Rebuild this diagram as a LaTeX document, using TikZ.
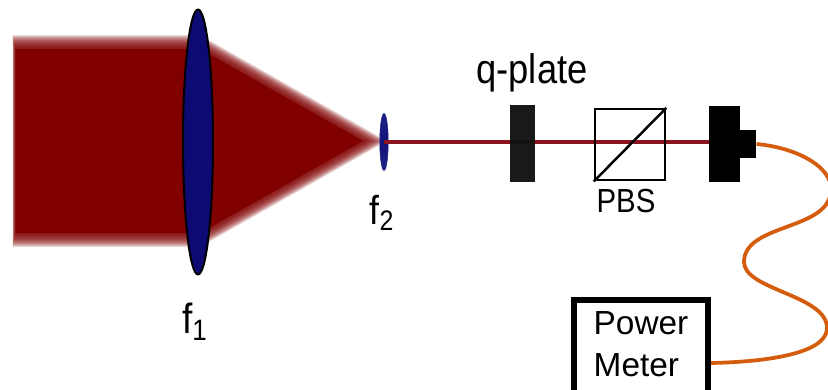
\documentclass[tikz,border=0pt]{standalone}
\usepackage{fontspec}
\setmainfont[FakeStretch=0.88]{Liberation Sans}
\newfontfamily\meterfont{Liberation Sans}
\usetikzlibrary{positioning, shapes.geometric}
\definecolor{beamred}{RGB}{128,0,0}
\definecolor{rayred}{RGB}{140,20,30}
\definecolor{lensmid}{RGB}{14,10,115}
\definecolor{lensend}{RGB}{30,35,135}
\definecolor{fiberorange}{RGB}{212,92,12}
\pgfdeclareverticalshading{lensshade}{100bp}{color(0bp)=(lensend); color(10bp)=(lensmid); color(90bp)=(lensmid); color(100bp)=(lensend)}

\begin{document}
\begin{tikzpicture}[
    x=0.02cm, y=-0.02cm,
    lens/.style={ellipse, draw=black, inner sep=0pt, shading=lensshade},
    label/.style={inner sep=0pt},
    solid/.style={rectangle, inner sep=0pt, fill=black},
    fiber/.style={fiberorange, line width=0.075cm}
]
    \clip (0,0) rectangle (828,389);

    \foreach \d in {-7,-6,...,7}
        \fill[beamred, opacity=.15] (14+.2*\d,42+\d) -- (200,42+\d) -- (375-1.7*\d,141) -- (200,240-\d) -- (14+.2*\d,240-\d) -- cycle;
    \fill[beamred] (15.5,49) -- (200,49) -- (363,141) -- (200,233) -- (15.5,233) -- cycle;

    \node[lens, line width=0.04cm, minimum width=0.6cm, minimum height=5.3cm] (f1) at (198,142) {};
    \node[lens, draw=lensend, line width=0.01cm, shading=axis, top color=lensend, bottom color=lensend, middle color=lensmid!70!lensend, minimum width=0.17cm, minimum height=1.14cm] (f2) at (384,142) {};

    \node[solid, minimum width=0.62cm, minimum height=1.52cm] (det) at (724.5,144) {};
    \node[solid, minimum width=0.32cm, minimum height=0.56cm, right=-0.01cm of det] (tip) {};

    \draw[rayred, line width=0.085cm] (f2.center) -- (det.west |- f2.center);

    \node[solid, fill=black!93, fill opacity=.97, minimum width=0.5cm, minimum height=1.54cm] (qplate) at (522.5,143.4) {};
    \node[rectangle, draw, line width=0.05cm, inner sep=0pt, minimum width=1.4cm, minimum height=1.42cm] (pbs) at (630,144.7) {};
    \draw[line width=0.05cm] (pbs.south west) -- (pbs.north east);

    \node[label, font=\fontsize{23.5}{27}\selectfont] (qlabel) at (532,73) {q-plate};
    \node[label, font=\fontsize{19}{23}\selectfont] (pbslabel) at (626,201) {PBS};
    \node[label, font=\fontsize{24}{28}\selectfont] (f1label) at (195,322) {f\textsubscript{1}};
    \node[label, font=\fontsize{23}{27}\selectfont] (f2label) at (382,213) {f\textsubscript{2}};

    \node[rectangle, draw, line width=0.12cm, inner sep=0pt, minimum width=2.68cm, minimum height=2.52cm] (meter) at (641,363) {};
    \node[label, align=left, font=\meterfont\fontsize{19}{24}\selectfont] (meterlabel) at (641,344) {Power\\Meter};

    \draw[fiber] (tip.east) .. controls (800,148) and (838,170) .. (830,196)
        .. controls (822,230) and (744,225) .. (744,262)
        .. controls (744,290) and (827,295) .. (827,328)
        .. controls (827,355) and (760,362) .. (meter.east);
\end{tikzpicture}
\end{document}
